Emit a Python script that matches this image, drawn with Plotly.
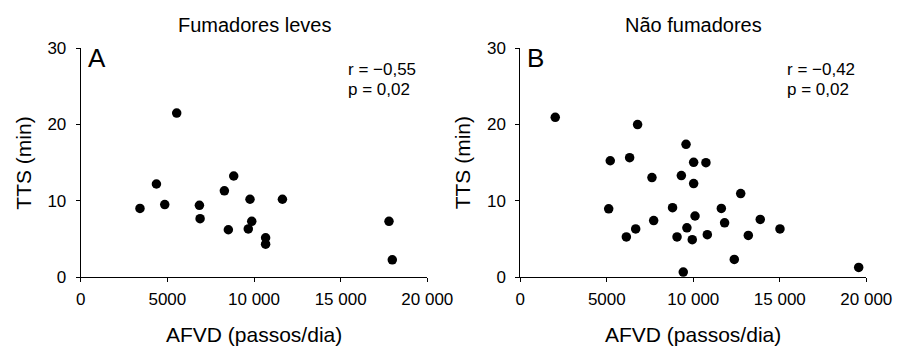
import plotly.graph_objects as go

# Panel A: Fumadores leves
a_steps = [3420, 4370, 4850, 5540, 6850, 6890, 8290, 8520, 8830, 9670, 9770, 9870, 10670, 10670, 11640, 17790, 17980]
a_tts = [9.0, 12.2, 9.5, 21.5, 9.4, 7.65, 11.3, 6.2, 13.25, 6.3, 10.2, 7.3, 5.15, 4.3, 10.2, 7.3, 2.25]

# Panel B: Não fumadores
b_steps = [2020, 6780, 5200, 6320, 7610, 5110, 6130, 6670, 7710, 9580, 9310, 10020, 10730, 10020, 8800,
           9060, 9630, 9940, 10100, 10810, 9420, 11620, 11810, 12740, 12370, 13180, 13870, 15010, 19560]
b_tts = [20.95, 20.0, 15.25, 15.65, 13.05, 8.95, 5.25, 6.3, 7.4, 17.4, 13.3, 15.05, 15.0, 12.25, 9.1,
         5.25, 6.45, 4.9, 8.0, 5.55, 0.65, 9.0, 7.1, 10.95, 2.3, 5.45, 7.55, 6.3, 1.25]

panel_titles = ["Fumadores leves", "Não fumadores"]
panel_letters = ["A", "B"]
stats_r = ["r = −0,55", "r = −0,42"]
stats_p = ["p = 0,02", "p = 0,02"]
x_tickvals = [0, 5000, 10000, 15000, 20000]
x_ticktext = ["0", "5000", "10 000", "15 000", "20 000"]
y_tickvals = [0, 10, 20, 30]
x_title = "AFVD (passos/dia)"
y_title = "TTS (min)"

W, H = 897, 346
FONT = "Liberation Sans, Arial, Helvetica, sans-serif"

def px_x(p):
    return p / W

def px_y(p):
    return 1 - p / H

doms = [(80.7, 427.3), (520.3, 866.3)]
y0_px, y30_px = 277.0, 48.3

fig = go.Figure()
fig.add_trace(go.Scatter(x=a_steps, y=a_tts, mode="markers", xaxis="x", yaxis="y",
                         marker=dict(color="black", size=9.5), showlegend=False))
fig.add_trace(go.Scatter(x=b_steps, y=b_tts, mode="markers", xaxis="x2", yaxis="y2",
                         marker=dict(color="black", size=9.5), showlegend=False))

axis_common = dict(showline=True, linecolor="black", linewidth=1, ticks="outside", ticklen=4,
                   tickcolor="black", tickwidth=1, showgrid=False, zeroline=False, automargin=False,
                   tickfont=dict(family=FONT, size=17, color="black"), fixedrange=True)

layout = dict(width=W, height=H, margin=dict(l=0, r=0, t=0, b=0, pad=0), template="none",
              paper_bgcolor="white", plot_bgcolor="white", showlegend=False)

annotations = []
for i, (d0, d1) in enumerate(doms):
    sx = "" if i == 0 else str(i + 1)
    layout["xaxis" + sx] = dict(axis_common, domain=[px_x(d0), px_x(d1)], range=[0, 20000],
                                tickvals=x_tickvals, ticktext=x_ticktext, anchor="y" + sx,
                                ticklabelstandoff=3)
    layout["yaxis" + sx] = dict(axis_common, domain=[px_y(y0_px), px_y(y30_px)], range=[0, 30],
                                tickvals=y_tickvals, anchor="x" + sx, ticklabelstandoff=6)
    cx = (d0 + d1) / 2
    annotations.append(dict(text=panel_titles[i], x=px_x(cx), y=px_y(25), xref="paper", yref="paper",
                            xanchor="center", yanchor="middle", showarrow=False,
                            font=dict(family=FONT, size=20, color="black")))
    annotations.append(dict(text=x_title, x=px_x(cx), y=px_y(334), xref="paper", yref="paper",
                            xanchor="center", yanchor="middle", showarrow=False,
                            font=dict(family=FONT, size=21, color="black")))
    annotations.append(dict(text=y_title, x=px_x(d0 - 58), y=px_y(163), xref="paper", yref="paper",
                            xanchor="center", yanchor="middle", showarrow=False, textangle=-90,
                            font=dict(family=FONT, size=21, color="black")))
    annotations.append(dict(text=panel_letters[i], x=px_x(d0 + 5), y=px_y(58), xref="paper", yref="paper",
                            xanchor="left", yanchor="middle", showarrow=False,
                            font=dict(family=FONT, size=26, color="black")))
    annotations.append(dict(text=stats_r[i], x=px_x(d0 + 265), y=px_y(69), xref="paper", yref="paper",
                            xanchor="left", yanchor="middle", showarrow=False,
                            font=dict(family=FONT, size=17, color="black")))
    annotations.append(dict(text=stats_p[i], x=px_x(d0 + 265), y=px_y(90), xref="paper", yref="paper",
                            xanchor="left", yanchor="middle", showarrow=False,
                            font=dict(family=FONT, size=17, color="black")))

layout["annotations"] = annotations
fig.update_layout(**layout)
fig.write_html("out.html", config={"displayModeBar": False},
               post_script="document.body.style.margin='0';document.body.style.overflow='hidden';")
